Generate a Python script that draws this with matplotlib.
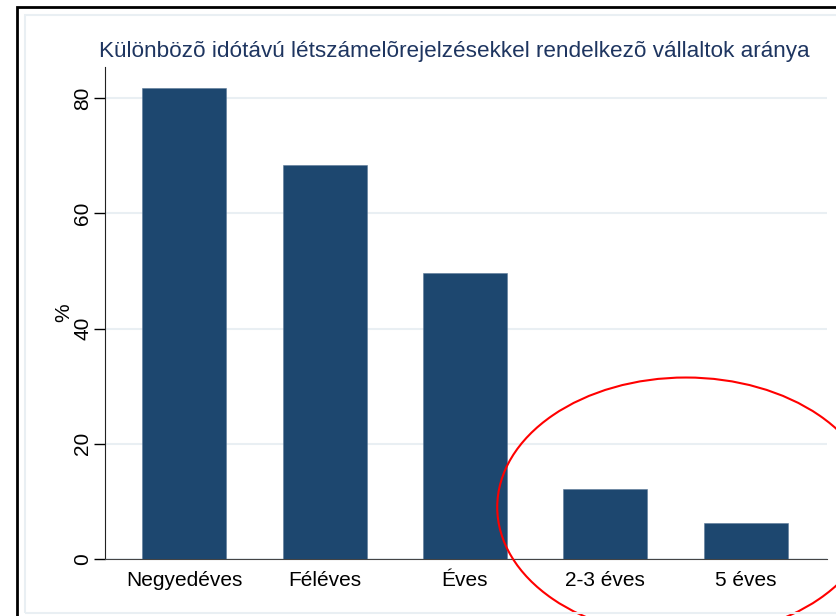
import matplotlib
matplotlib.use("Agg")
import matplotlib.pyplot as plt
from matplotlib.patches import Ellipse, Rectangle

plt.rcParams['font.family'] = ['Liberation Sans', 'DejaVu Sans']

categories = ["Negyedéves", "Féléves", "Éves", "2-3 éves", "5 éves"]
shares = [81.8, 68.4, 49.6, 12.1, 6.3]
yticks = [0, 20, 40, 60, 80]
title = "Különbözõ idótávú létszámelõrejelzésekkel rendelkezõ vállaltok aránya"

bar_color = "#1d476f"
grid_color = "#e9eff3"

fig = plt.figure(figsize=(8.37, 6.16), dpi=100)
fig.patch.set_facecolor("white")

# outer black frame and the light inner graph-region frame
fig.add_artist(Rectangle((17 / 837, -0.1), 1.2, 1.1 - 7 / 616,
                         transform=fig.transFigure, fill=False,
                         edgecolor="black", linewidth=2))
fig.add_artist(Rectangle((25 / 837, 1 - 613 / 616), 1.2, (613 - 15) / 616,
                         transform=fig.transFigure, fill=False,
                         edgecolor=grid_color, linewidth=1.5))

ax = fig.add_axes([105 / 837, 1 - 559 / 616, (827 - 105) / 837, (559 - 67) / 616])
xs = range(len(categories))
ax.bar(xs, shares, width=0.6, color=bar_color, edgecolor="#5b7a99",
       linewidth=0.4, zorder=3)

ax.set_xlim(-0.565, 4.58)
ax.set_ylim(0, 85.4)
ax.set_yticks(yticks)
ax.set_yticklabels([str(t) for t in yticks], rotation=90, va="center",
                   fontsize=15)
ax.set_xticks(list(xs))
ax.set_xticklabels(categories, fontsize=15)
ax.tick_params(axis="x", length=0, pad=9)
ax.tick_params(axis="y", length=8, width=1, pad=1)
ax.set_ylabel("%", fontsize=15, labelpad=0)

ax.grid(axis="y", color=grid_color, linewidth=1.5, zorder=0)
ax.spines["top"].set_visible(False)
ax.spines["right"].set_visible(False)
ax.spines["left"].set_color("#222222")
ax.spines["bottom"].set_color("#444444")

fig.text(454 / 837, 1 - 51 / 616, title, ha="center", va="center",
         fontsize=16.2, color="#1e3560")

# red ellipse highlighting the long horizons
ax.add_patch(Ellipse((3.575, 9.0), 2.69, 45.0, fill=False, edgecolor="red",
                     linewidth=1.5, clip_on=False, zorder=5))

fig.savefig("out.png", dpi=100)
